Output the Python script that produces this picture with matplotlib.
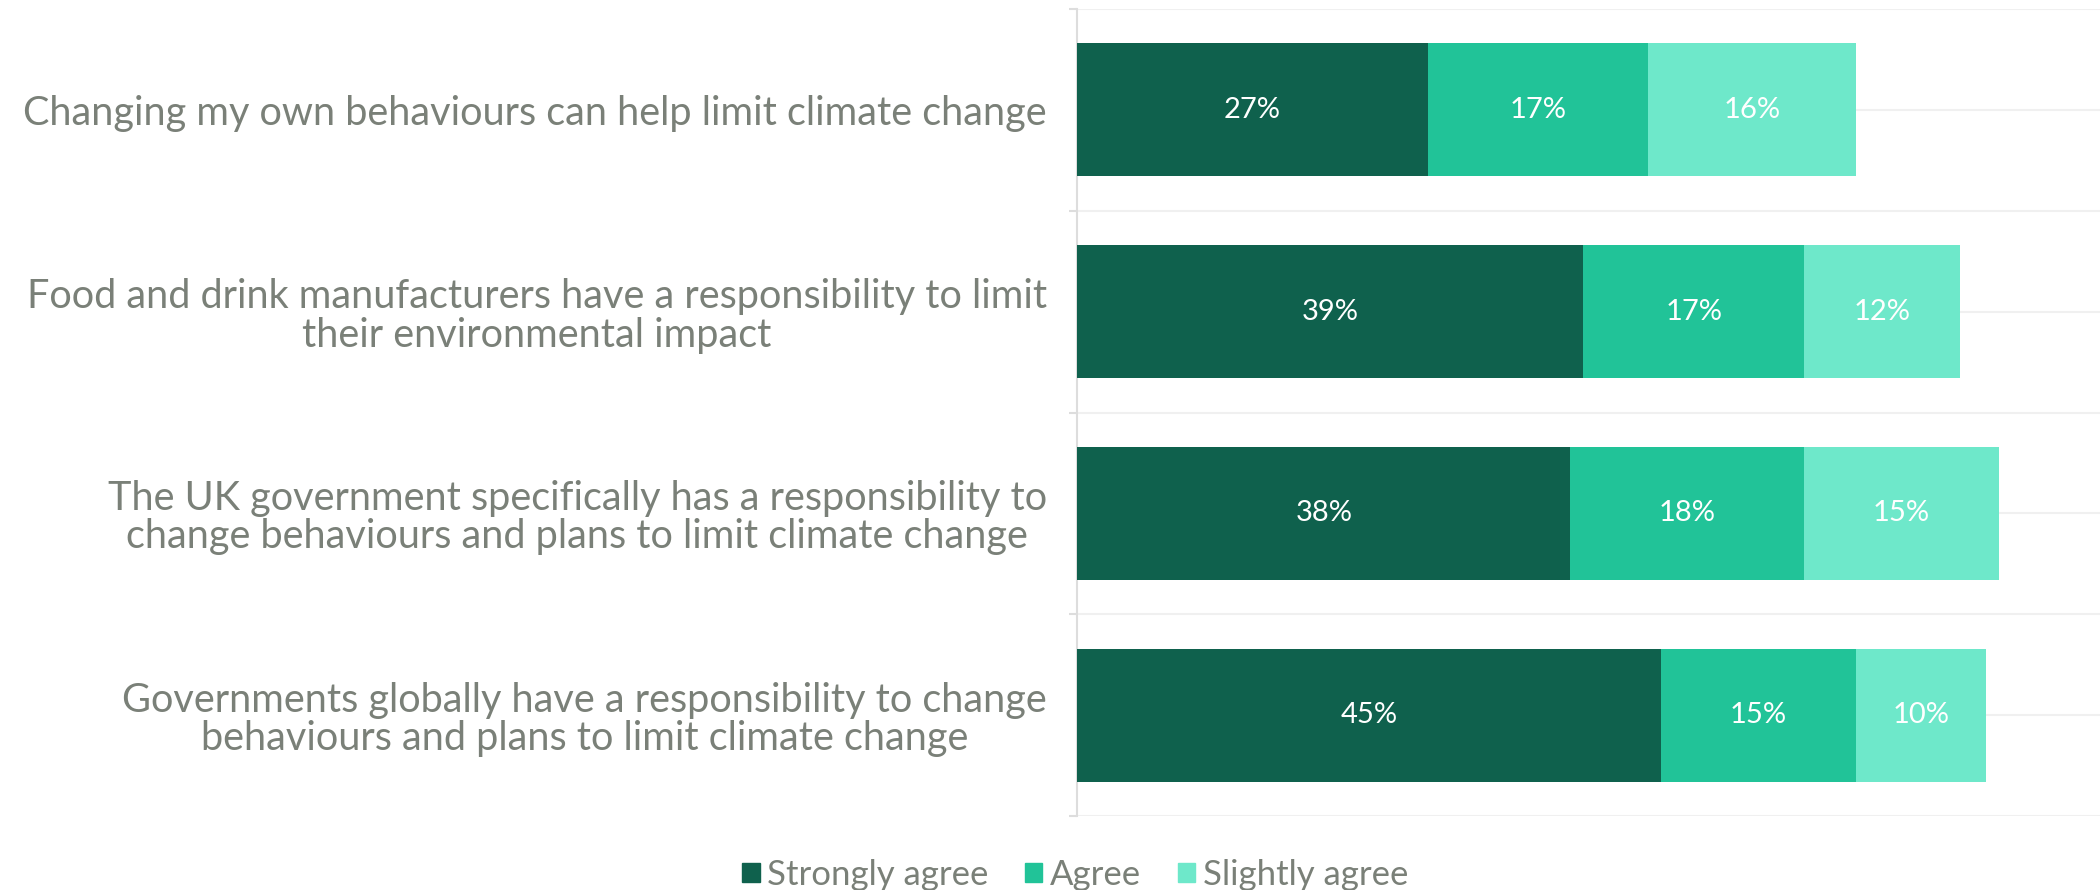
import matplotlib.pyplot as plt
import numpy as np
from matplotlib.patches import Patch

plt.rcParams['font.family'] = ['Lato', 'DejaVu Sans']

statements = [
    'Changing my own behaviours can help limit climate change',
    'Food and drink manufacturers have a responsibility to limit\ntheir environmental impact',
    'The UK government specifically has a responsibility to\nchange behaviours and plans to limit climate change',
    'Governments globally have a responsibility to change\nbehaviours and plans to limit climate change',
]
series = ['Strongly agree', 'Agree', 'Slightly agree']
strongly = [27, 39, 38, 45]
agree = [17, 17, 18, 15]
slightly = [16, 12, 15, 10]
colors = ['#0F614D', '#21C398', '#6EE8CA']

grey_text = '#7A8078'

fig = plt.figure(figsize=(21, 8.9), dpi=100)
ax = fig.add_axes([0.513, 0.083, 0.487, 0.907])

y = np.arange(len(statements))
left = np.zeros(len(statements))
for vals, col in zip([strongly, agree, slightly], colors):
    vals = np.array(vals)
    bars = ax.barh(y, vals, left=left, height=0.66, color=col, zorder=3)
    for b, v in zip(bars, vals):
        ax.text(b.get_x() + b.get_width() / 2, b.get_y() + b.get_height() / 2,
                f'{v}%', ha='center', va='center', color='white', fontsize=21, zorder=4)
    left += vals

ax.set_xlim(0, 78.8)
ax.set_ylim(len(statements) - 0.5, -0.5)
ax.set_yticks(y)
ax.set_yticklabels(statements, fontsize=28.5, color=grey_text, ha='right', multialignment='center',
                   linespacing=1.05)
ax.set_yticks(np.arange(-0.5, len(statements)), minor=True)
ax.tick_params(axis='y', which='major', length=0, pad=22)
ax.tick_params(axis='y', which='minor', length=6, color='#DDDDDD', width=1.5)
ax.set_xticks([])
ax.grid(axis='y', which='both', color='#F0F0F0', linewidth=1.5, zorder=0)
for s in ['top', 'right', 'bottom']:
    ax.spines[s].set_visible(False)
ax.spines['left'].set_color('#DDDDDD')
ax.spines['left'].set_linewidth(1.5)

handles = [Patch(color=c, label=s) for c, s in zip(colors, series)]
fig.legend(handles=handles, loc='lower center', bbox_to_anchor=(0.512, -0.036), ncol=3,
           frameon=False, fontsize=25, labelcolor=grey_text, handlelength=0.5,
           handleheight=0.5, handletextpad=0.22, columnspacing=1.05)

fig.savefig('out.png', dpi=100)
